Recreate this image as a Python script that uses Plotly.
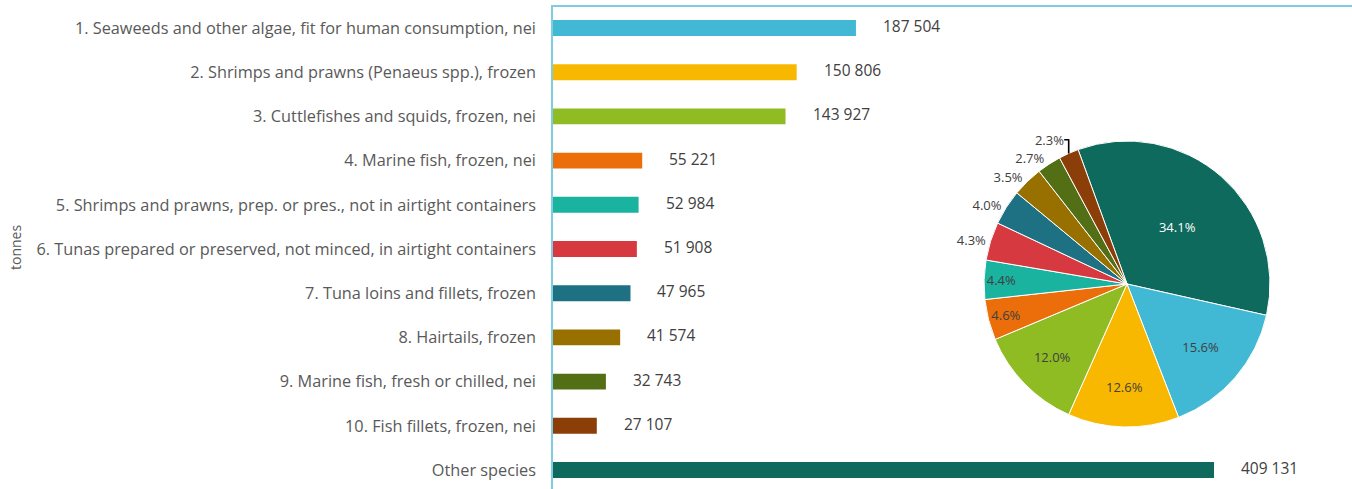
import plotly.graph_objects as go

# Top export products by volume (tonnes)
categories = [
    "1. Seaweeds and other algae, fit for human consumption, nei",
    "2. Shrimps and prawns (Penaeus spp.), frozen",
    "3. Cuttlefishes and squids, frozen, nei",
    "4. Marine fish, frozen, nei",
    "5. Shrimps and prawns, prep. or pres., not in airtight containers",
    "6. Tunas prepared or preserved, not minced, in airtight containers",
    "7. Tuna loins and fillets, frozen",
    "8. Hairtails, frozen",
    "9. Marine fish, fresh or chilled, nei",
    "10. Fish fillets, frozen, nei",
    "Other species",
]
tonnes = [187504, 150806, 143927, 55221, 52984, 51908, 47965, 41574, 32743, 27107, 409131]
colors = ["#41b8d4", "#f9b800", "#8fbc23", "#eb6e0a", "#1ab39f", "#d63a40",
          "#1e7083", "#977000", "#526f16", "#8b3e07", "#0e6a5c"]

W, H = 1352, 489
ML, MT = 553, 7
axis_color = "#7fcce0"
label_color = "#595959"
value_color = "#404040"
font_family = "Open Sans"

fig = go.Figure()

fig.add_trace(go.Bar(
    x=tonnes,
    y=categories,
    orientation="h",
    width=0.36,
    marker=dict(color=colors, line=dict(width=0)),
    hoverinfo="skip",
    showlegend=False,
))

# Value labels to the right of each bar
annotations = []
for cat, v in zip(categories, tonnes):
    annotations.append(dict(
        x=v, y=cat, xref="x", yref="y",
        text=f"{v:,}".replace(",", " "),
        xanchor="left", yanchor="middle", xshift=25, yshift=2,
        showarrow=False,
        font=dict(family=font_family, size=15.5, color=value_color),
    ))

# Share of each product in total volume; pie starts with "Other species"
pie_labels = [categories[-1]] + categories[:-1]
pie_values = [tonnes[-1]] + tonnes[:-1]
pie_colors = [colors[-1]] + colors[:-1]
pie_positions = ["inside"] * 6 + ["outside"] * 5
pie_text_colors = ["#ffffff"] + [value_color] * 10

plot_w = W - ML
plot_h = H - MT
cx, cy, d = 1127, 284, 286
fig.add_trace(go.Pie(
    labels=pie_labels,
    values=pie_values,
    sort=False,
    direction="clockwise",
    rotation=-20,
    marker=dict(colors=pie_colors, line=dict(color="#ffffff", width=1)),
    texttemplate="%{percent:.1%}",
    textposition=pie_positions,
    textfont=dict(family=font_family, size=13, color=pie_text_colors),
    insidetextorientation="horizontal",
    automargin=False,
    domain=dict(
        x=[(cx - d / 2 - ML) / plot_w, (cx + d / 2 - ML) / plot_w],
        y=[(H - (cy + d / 2)) / plot_h, (H - (cy - d / 2)) / plot_h],
    ),
    hoverinfo="label+percent",
    showlegend=False,
))

annotations.append(dict(
    x=(15 - ML) / plot_w, y=0.5, xref="paper", yref="paper",
    text="tonnes", textangle=-90, showarrow=False,
    xanchor="center", yanchor="middle",
    font=dict(family=font_family, size=14, color=label_color),
))

fig.update_layout(
    width=W, height=H,
    margin=dict(l=ML, r=0, t=MT, b=0, autoexpand=False),
    paper_bgcolor="#ffffff",
    plot_bgcolor="#ffffff",
    font=dict(family=font_family, color=label_color),
    annotations=annotations,
    xaxis=dict(
        range=[0, 409131 * (W - ML) / 661],
        side="top",
        showline=True, linecolor=axis_color, linewidth=1.5,
        showticklabels=False, showgrid=False, zeroline=False, ticks="",
    ),
    yaxis=dict(
        range=[10.43, -0.475],
        showline=True, linecolor=axis_color, linewidth=1.5,
        showgrid=False, zeroline=False, ticks="",
        ticklabelstandoff=12,
        tickfont=dict(family=font_family, size=16.3, color=label_color),
        automargin=False,
    ),
)

fig.write_html("out.html")
